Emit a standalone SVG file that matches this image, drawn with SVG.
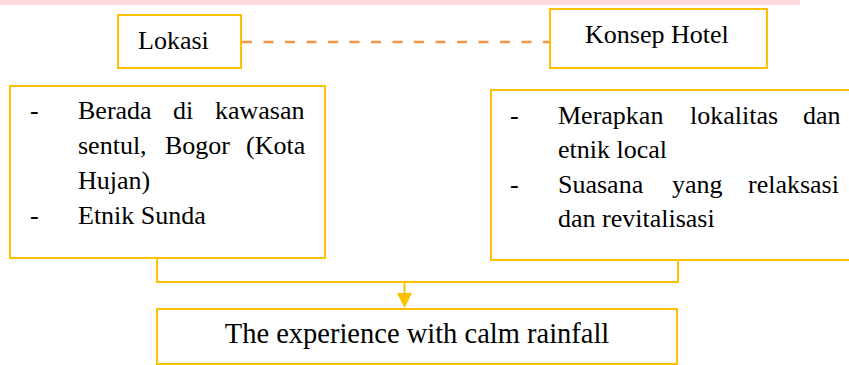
<svg xmlns="http://www.w3.org/2000/svg" width="849" height="365" viewBox="0 0 849 365">
<style>
.box{fill:#fff;stroke:#FFC000;stroke-width:2}
.t{font-family:"Liberation Serif","Times New Roman",serif;font-size:26px;fill:#000}
.big{font-size:28.5px}
.conn{fill:none;stroke:#FFC000;stroke-width:2}
.dash{fill:none;stroke:#F79646;stroke-width:2.5;stroke-dasharray:10 11.5}
</style>
<defs>
<marker id="arr" markerWidth="15" markerHeight="15" refX="7.5" refY="15" orient="auto" markerUnits="userSpaceOnUse" viewBox="0 0 15 15">
<path d="M0,0 L15,0 L7.5,15 Z" fill="#FFC000"/>
</marker>
</defs>
<rect x="0" y="0" width="800" height="5" fill="#FFD9DC"/>
<g id="connectors">
<line class="dash" x1="242" y1="42" x2="560" y2="42"/>
<path class="conn" d="M157,258 V282 H678 V260"/>
<line class="conn" x1="404.5" y1="282" x2="404.5" y2="293"/>
<path d="M397,293 L412,293 L404.5,308 Z" fill="#FFC000"/>
</g>
<g id="lokasi">
<rect class="box" x="118" y="15" width="123" height="53"/>
<text class="t" x="138" y="49">Lokasi</text>
</g>
<g id="konsep">
<rect class="box" x="550" y="9" width="217" height="59"/>
<text class="t" x="585" y="43">Konsep Hotel</text>
</g>
<g id="lokasi-detail">
<rect class="box" x="10" y="86" width="315" height="172"/>
<text class="t" y="119"><tspan x="30">-</tspan><tspan x="78">Berada</tspan><tspan x="173">di</tspan><tspan x="215">kawasan</tspan></text>
<text class="t" y="154"><tspan x="78">sentul,</tspan><tspan x="165">Bogor</tspan><tspan x="246">(Kota</tspan></text>
<text class="t" x="78" y="189">Hujan)</text>
<text class="t" y="224"><tspan x="30">-</tspan><tspan x="78">Etnik Sunda</tspan></text>
</g>
<g id="konsep-detail">
<rect class="box" x="491" y="90" width="370" height="170"/>
<text class="t" y="124"><tspan x="510">-</tspan><tspan x="558">Merapkan</tspan><tspan x="690">lokalitas</tspan><tspan x="803">dan</tspan></text>
<text class="t" x="558" y="158">etnik local</text>
<text class="t" y="193"><tspan x="510">-</tspan><tspan x="558">Suasana</tspan><tspan x="672">yang</tspan><tspan x="748">relaksasi</tspan></text>
<text class="t" x="558" y="227">dan revitalisasi</text>
</g>
<g id="result">
<rect class="box" x="157" y="309" width="520" height="55"/>
<text class="t big" x="417" y="342.5" text-anchor="middle">The experience with calm rainfall</text>
</g>
</svg>
